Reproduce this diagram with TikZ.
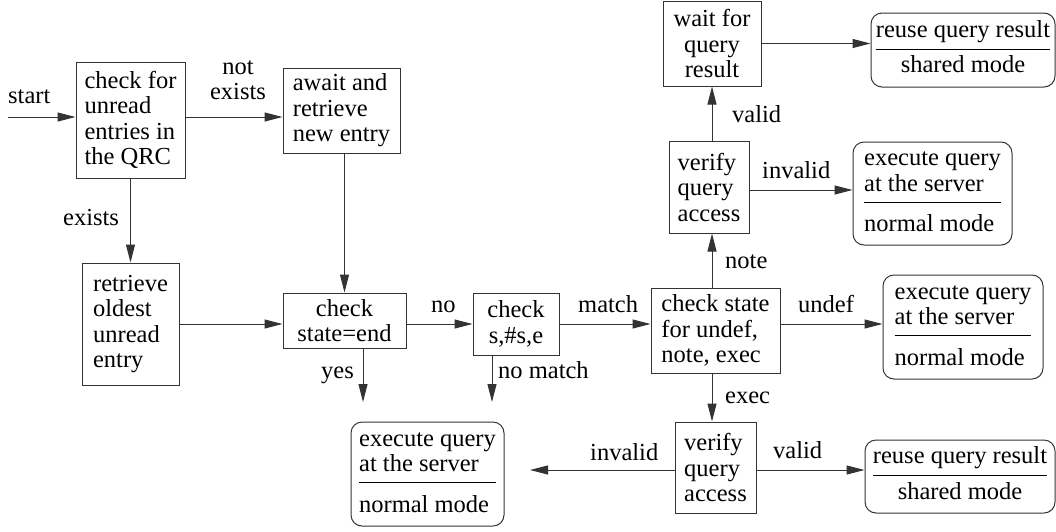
\documentclass[tikz,border=0pt]{standalone}
\usepackage{fontspec}
\setmainfont{LiberationSerif-Regular.ttf}
\usetikzlibrary{arrows.meta}
\setlength\arrayrulewidth{1pt}

\begin{document}
\begin{tikzpicture}[x=1pt,y=-1pt,
  every node/.style={font=\fontsize{24.5}{25.5}\selectfont, text=black},
  box/.style={draw=black!80, line width=1pt, inner sep=0pt},
  rbox/.style={draw=black!80, line width=1pt, inner sep=0pt, rounded corners=11pt},
  lbl/.style={inner sep=0pt},
  arr/.style={draw=black!80, line width=1pt, -{Triangle[length=18pt,width=9pt]}}
]
\useasboundingbox (0,0) rectangle (1056,531);

% process boxes
\node[box, align=left, minimum width=109pt, minimum height=116pt] (b1) at (130.5,120)
  {check for\\unread\\entries in\\the QRC};
\node[box, align=left, minimum width=117pt, minimum height=85pt] (b2) at (341.5,110.5)
  {await and\\retrieve\\new entry};
\node[box, align=left, minimum width=97pt, minimum height=122pt] (b3) at (130.5,324)
  {retrieve\\oldest\\unread\\entry};
\node[box, align=center, minimum width=123pt, minimum height=55pt] (b4) at (344.5,320.5)
  {check\\state=end};
\node[box, align=center, minimum width=86pt, minimum height=62pt] (b5) at (516,324)
  {check\\s,\#s,e};
\node[box, align=left, minimum width=129pt, minimum height=85pt] (b6) at (715.5,330.5)
  {check state\\for undef,\\note, exec};
\node[box, align=left, minimum width=80pt, minimum height=92pt] (b7) at (709,187)
  {verify\\query\\access};
\node[box, align=center, minimum width=98pt, minimum height=85pt] (b8) at (712,43.5)
  {wait for\\query\\result};
\node[box, align=left, minimum width=81pt, minimum height=91pt] (b12) at (715.5,467.5)
  {verify\\query\\access};

% outcome boxes
\node[rbox, minimum width=184pt, minimum height=74pt] (r9) at (963,50)
  {\begin{tabular}{@{}c@{}}reuse query result\\[4pt]\hline\rule{0pt}{23pt}shared mode\end{tabular}};
\node[rbox, minimum width=159pt, minimum height=103pt] (r10) at (932.5,193.5)
  {\begin{tabular}{@{}l@{}}execute query\\at the server\\[3pt]\hline\rule{0pt}{29pt}normal mode\end{tabular}};
\node[rbox, minimum width=160pt, minimum height=104pt] (r11) at (963,327)
  {\begin{tabular}{@{}l@{}}execute query\\at the server\\[3pt]\hline\rule{0pt}{29pt}normal mode\end{tabular}};
\node[rbox, minimum width=190pt, minimum height=73pt] (r13) at (960,476.5)
  {\begin{tabular}{@{}c@{}}reuse query result\\[4pt]\hline\rule{0pt}{23pt}shared mode\end{tabular}};
\node[rbox, minimum width=153pt, minimum height=104pt] (r14) at (427.5,474)
  {\begin{tabular}{@{}l@{}}execute query\\at the server\\[3pt]\hline\rule{0pt}{29pt}normal mode\end{tabular}};

% free ends of connectors
\coordinate (cs) at (8,117);
\coordinate (yesend) at (363,402);
\coordinate (nmend) at (492,402);
\coordinate (invend) at (530,470);

% connectors
\draw[arr] (cs) -- (cs -| b1.west);
\draw[arr] (b1.east |- cs) -- (b2.west |- cs);
\draw[arr] (b1.south) -- (b3.north);
\draw[arr] (b4.north |- b2.south) -- (b4.north);
\draw[arr] (b3.east) -- (b3.east -| b4.west);
\draw[arr] (b4.east |- b5.west) -- (b5.west);
\draw[arr] (b5.east) -- (b5.east -| b6.west);
\draw[arr] (b4.south -| yesend) -- (yesend);
\draw[arr] (b5.south -| nmend) -- (nmend);
\draw[arr] (b6.north -| b8.south) -- (b7.south -| b8.south);
\draw[arr] (b7.north -| b8.south) -- (b8.south);
\draw[arr] (b6.south -| b8.south) -- (b12.north -| b8.south);
\draw[arr] (b8.east) -- (b8.east -| r9.west);
\draw[arr] ([yshift=-3pt]b7.east) -- ([yshift=-3pt]b7.east -| r10.west);
\draw[arr] ([yshift=6.5pt]b6.east) -- ([yshift=6.5pt]b6.east -| r11.west);
\draw[arr] ([yshift=-2.5pt]b12.east) -- ([yshift=-2.5pt]b12.east -| r13.west);
\draw[arr] ([yshift=-2.5pt]b12.west) -- (invend);

% connector labels
\node[lbl, anchor=base west] (lstart) at (8,103) {start};
\node[lbl, anchor=south, align=center] (lnotex) at (238,100) {not\\exists};
\node[lbl, anchor=base west] (lex) at (63,225) {exists};
\node[lbl, anchor=base west] (lno) at (431,312) {no};
\node[lbl, anchor=base west] (lyes) at (321,378) {yes};
\node[lbl, anchor=base west] (lnomatch) at (498,378) {no match};
\node[lbl, anchor=base west] (lmatch) at (578,312) {match};
\node[lbl, anchor=base west] (linv1) at (590,460) {invalid};
\node[lbl, anchor=base west] (lnote) at (725,268) {note};
\node[lbl, anchor=base west] (lundef) at (798,312) {undef};
\node[lbl, anchor=base west] (lexec) at (725,403) {exec};
\node[lbl, anchor=base west] (lval1) at (773,458) {valid};
\node[lbl, anchor=base west] (lval2) at (732,122) {valid};
\node[lbl, anchor=base west] (linv2) at (762,178) {invalid};
\end{tikzpicture}
\end{document}
